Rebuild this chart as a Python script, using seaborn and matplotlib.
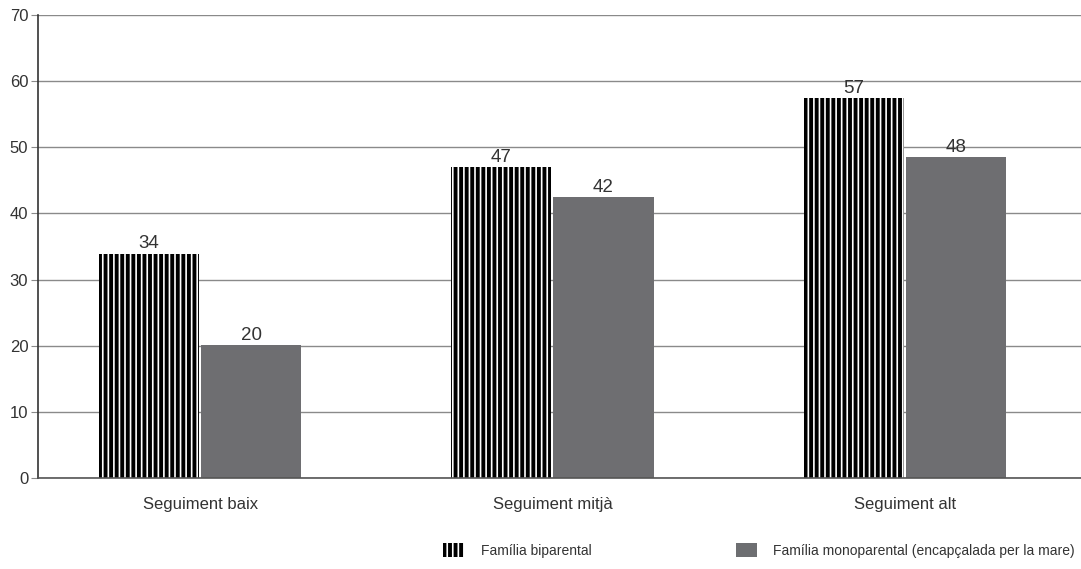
import numpy as np
import matplotlib.pyplot as plt
import seaborn as sns
import pandas as pd
from matplotlib.patches import Patch

# data
categories = ["Seguiment baix", "Seguiment mitjà", "Seguiment alt"]
series = ["Família biparental", "Família monoparental (encapçalada per la mare)"]
biparental = [33.9, 47.0, 57.4]
monoparental = [20.1, 42.5, 48.5]
labels_bi = ["34", "47", "57"]
labels_mono = ["20", "42", "48"]

df = pd.DataFrame({
    "cat": categories * 2,
    "serie": [series[0]] * 3 + [series[1]] * 3,
    "val": biparental + monoparental,
})

sns.set_style("white")
plt.rcParams['font.family'] = ['Liberation Sans', 'DejaVu Sans']
plt.rcParams['hatch.linewidth'] = 1.2

grey = "#6d6e71"
txt = "#333333"
fig = plt.figure(figsize=(10.81, 5.69), dpi=100)
ax = fig.add_axes([38 / 1081, 1 - 478 / 569, 1 - 38 / 1081, (478 - 15) / 569])

sns.barplot(data=df, x="cat", y="val", hue="serie", order=categories,
            hue_order=series, palette=["black", grey], width=0.58, gap=0.02,
            linewidth=0, legend=False, ax=ax)

# striped bars: black fill, white vertical hatch
for bar in ax.containers[0]:
    bar.set_facecolor("black")
    bar.set_edgecolor("white")
    bar.set_hatch("|||")
    bar.set_linewidth(0)

ax.bar_label(ax.containers[0], labels=labels_bi, padding=1, fontsize=13.5, color=txt)
ax.bar_label(ax.containers[1], labels=labels_mono, padding=1, fontsize=13.5, color=txt)

ax.set_ylim(0, 70)
ax.set_yticks(range(0, 71, 10))
ax.set_xlim(-0.46, 2.5)
ax.set_xlabel("")
ax.set_ylabel("")
ax.yaxis.grid(True, color="#8a8a8a", linewidth=1)
ax.set_axisbelow(True)

for s in ["top", "right"]:
    ax.spines[s].set_visible(False)
ax.spines["left"].set_color("#333333")
ax.spines["left"].set_linewidth(1.2)
ax.spines["bottom"].set_color("#555555")
ax.spines["bottom"].set_linewidth(1.2)

ax.tick_params(axis="y", left=True, length=5, color="#8a8a8a", labelsize=12,
               labelcolor=txt, pad=2)
ax.tick_params(axis="x", bottom=False, labelsize=12, labelcolor=txt, pad=10)

handles = [Patch(facecolor="black", edgecolor="white", hatch="|||", linewidth=0),
           Patch(facecolor=grey, linewidth=0)]
fig.legend(handles, series, loc="lower right", bbox_to_anchor=(1.006, -0.002),
           ncol=2, frameon=False, fontsize=10, handlelength=1.5, handleheight=1.2,
           columnspacing=10.4, handletextpad=1.2, labelcolor=txt)

plt.savefig("out.png", dpi=100)
